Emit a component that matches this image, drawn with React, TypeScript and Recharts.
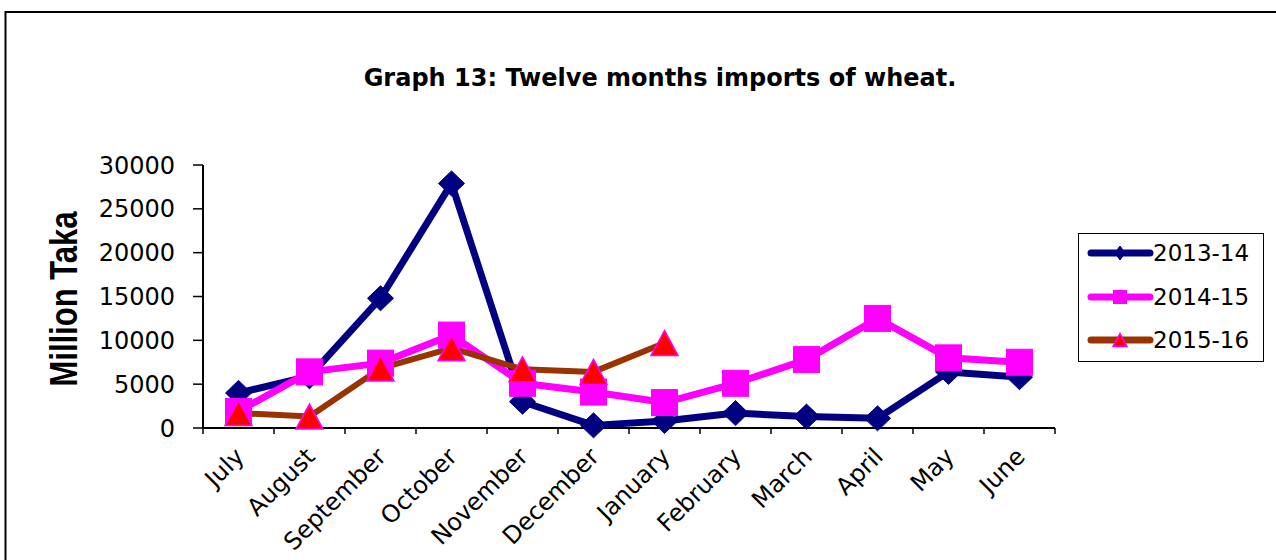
import React from 'react';
import { LineChart, Line, XAxis, YAxis, Legend } from 'recharts';

const months = ['July', 'August', 'September', 'October', 'November', 'December', 'January', 'February', 'March', 'April', 'May', 'June'];
const series1314 = [4000, 5900, 14800, 27900, 3000, 300, 800, 1700, 1300, 1100, 6400, 5800];
const series1415 = [1900, 6400, 7400, 10600, 5100, 4100, 2900, 5100, 7800, 12500, 8000, 7500];
const series1516 = [1700, 1300, 6800, 9100, 6700, 6400, 9700];
const yTicks = [0, 5000, 10000, 15000, 20000, 25000, 30000];
const seriesNames = ['2013-14', '2014-15', '2015-16'];

const data = months.map((m, i) => ({
  x: i + 0.5,
  month: m,
  s1: series1314[i],
  s2: series1415[i],
  s3: i < series1516.length ? series1516[i] : null,
}));

const xTicks: number[] = [];
for (let i = 0; i <= months.length; i++) {
  xTicks.push(i);
  if (i < months.length) xTicks.push(i + 0.5);
}

const FONT = "'DejaVu Sans', sans-serif";
const NAVY = '#000080';
const MAGENTA = '#FF00FF';
const BROWN = '#993300';
const RED = '#FF0000';

const diamond = (cx: number, cy: number, w: number, h: number, key?: any) => (
  <polygon key={key} points={`${cx},${cy - h / 2} ${cx + w / 2},${cy} ${cx},${cy + h / 2} ${cx - w / 2},${cy}`} fill={NAVY} stroke={NAVY} strokeWidth={1} />
);
const square = (cx: number, cy: number, s: number, key?: any) => (
  <rect key={key} x={cx - s / 2} y={cy - s / 2} width={s} height={s} fill={MAGENTA} stroke={MAGENTA} strokeWidth={1} />
);
const triangle = (cx: number, cy: number, w: number, h: number, key?: any) => (
  <polygon key={key} points={`${cx},${cy - h / 2} ${cx + w / 2},${cy + h / 2} ${cx - w / 2},${cy + h / 2}`} fill={RED} stroke={MAGENTA} strokeWidth={1.5} />
);

const DiamondDot = (p: any) => {
  if (p.cx == null || p.cy == null || p.value == null) return <g key={p.key} />;
  return diamond(p.cx, p.cy, 26, 25, p.key);
};
const SquareDot = (p: any) => {
  if (p.cx == null || p.cy == null || p.value == null) return <g key={p.key} />;
  return square(p.cx, p.cy, 26, p.key);
};
const TriangleDot = (p: any) => {
  if (p.cx == null || p.cy == null || p.value == null) return <g key={p.key} />;
  return triangle(p.cx, p.cy, 27, 25, p.key);
};

const XTick = (props: any) => {
  const { x, y, payload } = props;
  const v = payload.value;
  if (Number.isInteger(v)) {
    return <line x1={x} y1={y} x2={x} y2={y + 6} stroke="#000" strokeWidth={1.5} />;
  }
  const label = months[Math.floor(v)];
  const ax = x + 7;
  const ay = y + 30;
  return (
    <text x={ax} y={ay} transform={`rotate(-45 ${ax} ${ay})`} textAnchor="end" fontFamily={FONT} fontSize={24} fill="#000">
      {label}
    </text>
  );
};

const YTick = (props: any) => {
  const { x, y, payload } = props;
  return (
    <g>
      <line x1={x - 10} y1={y} x2={x} y2={y} stroke="#000" strokeWidth={1.5} />
      <text x={x - 28} y={y} dy="0.36em" textAnchor="end" fontFamily={FONT} fontSize={24} fill="#000">
        {payload.value}
      </text>
    </g>
  );
};

const renderLegend = () => {
  const rows = [20, 64, 107];
  return (
    <div style={{ width: 186, height: 129, border: '1.5px solid #000', boxSizing: 'border-box', background: '#fff' }}>
      <svg width={184} height={127} style={{ display: 'block' }}>
        {seriesNames.map((name, i) => {
          const cy = rows[i] - 1;
          const color = i === 0 ? NAVY : i === 1 ? MAGENTA : BROWN;
          return (
            <g key={name}>
              <line x1={12} y1={cy} x2={71} y2={cy} stroke={color} strokeWidth={7} strokeLinecap="round" />
              {i === 0 && diamond(41, cy, 10, 14)}
              {i === 1 && square(41, cy, 13)}
              {i === 2 && triangle(41, cy, 14, 13)}
              <text x={74} y={cy} dy="0.36em" fontFamily={FONT} fontSize={23} fill="#000">{name}</text>
            </g>
          );
        })}
      </svg>
    </div>
  );
};

export default function App() {
  return (
    <div style={{ position: 'absolute', left: 0, top: 0, width: 1276, height: 560, background: '#fff', overflow: 'hidden' }}>
      <div style={{ position: 'absolute', left: 0, top: 0 }}>
        <LineChart width={1276} height={560} data={data} margin={{ top: 165, right: 221, bottom: 0, left: 0 }}>
          <XAxis
            dataKey="x"
            type="number"
            domain={[0, 12]}
            ticks={xTicks}
            interval={0}
            height={132}
            tickSize={0}
            tickMargin={0}
            tickLine={false}
            axisLine={{ stroke: '#000', strokeWidth: 2 }}
            tick={<XTick />}
          />
          <XAxis
            xAxisId="top"
            orientation="top"
            dataKey="x"
            type="number"
            domain={[0, 12]}
            height={0}
            tick={false}
            tickLine={false}
            axisLine={{ stroke: '#808080', strokeWidth: 2 }}
          />
          <YAxis
            type="number"
            domain={[0, 30000]}
            ticks={yTicks}
            interval={0}
            width={203}
            tickSize={0}
            tickMargin={0}
            tickLine={false}
            axisLine={{ stroke: '#000', strokeWidth: 2 }}
            tick={<YTick />}
          />
          <YAxis
            yAxisId="right"
            orientation="right"
            type="number"
            domain={[0, 30000]}
            width={0}
            tick={false}
            tickLine={false}
            axisLine={{ stroke: '#808080', strokeWidth: 2 }}
          />
          <Legend
            layout="vertical"
            align="center"
            verticalAlign="middle"
            content={renderLegend}
            wrapperStyle={{ position: 'absolute', left: 1078, top: 233, width: 186, height: 129 }}
          />
          <Line dataKey="s1" name={seriesNames[0]} type="linear" stroke={NAVY} strokeWidth={7} strokeLinejoin="round" dot={DiamondDot} activeDot={false} isAnimationActive={false} />
          <Line dataKey="s2" name={seriesNames[1]} type="linear" stroke={MAGENTA} strokeWidth={7} strokeLinejoin="round" dot={SquareDot} activeDot={false} isAnimationActive={false} />
          <Line dataKey="s3" name={seriesNames[2]} type="linear" stroke={BROWN} strokeWidth={6} strokeLinejoin="round" dot={TriangleDot} activeDot={false} isAnimationActive={false} />
        </LineChart>
      </div>
      <svg width={1276} height={560} style={{ position: 'absolute', left: 0, top: 0, pointerEvents: 'none' }}>
        <path d="M5.5,560 L5.5,12 L1276,12" fill="none" stroke="#000" strokeWidth={2} />
        <text x={660} y={86} textAnchor="middle" fontFamily={FONT} fontWeight="bold" fontSize={24} fill="#000">
          Graph 13: Twelve months imports of wheat.
        </text>
        <text
          transform="translate(64,299) rotate(-90) scale(1,1.27)"
          textAnchor="middle"
          dominantBaseline="central"
          fontFamily="'Liberation Sans', Arial, sans-serif"
          fontWeight="bold"
          fontSize={31}
          fill="#000"
        >
          Million Taka
        </text>
      </svg>
    </div>
  );
}
